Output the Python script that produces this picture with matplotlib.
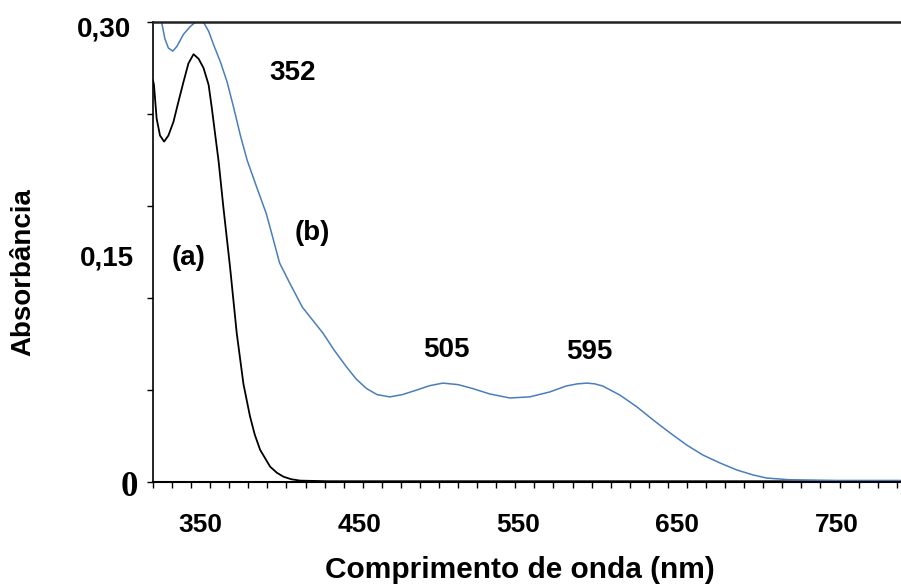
import numpy as np
import matplotlib
matplotlib.use("Agg")
import matplotlib.pyplot as plt
from matplotlib.ticker import NullFormatter

# spectrum (a) - black
wl_a = [320, 320.6, 322.3, 324.4, 327, 329.7, 332.9, 336, 339.2, 342.3, 345.5,
        348.7, 351.8, 355, 357, 359.2, 361.3, 364.2, 368.5, 372.7, 376.9, 381,
        384, 387.4, 393.7, 398, 402, 407, 412.6, 430, 500, 600, 700, 790]
abs_a = [0.262, 0.259, 0.237, 0.226, 0.222, 0.226, 0.235, 0.248, 0.261, 0.273,
         0.279, 0.276, 0.270, 0.259, 0.244, 0.226, 0.209, 0.180, 0.140, 0.097,
         0.064, 0.043, 0.031, 0.021, 0.010, 0.006, 0.0035, 0.0018, 0.0009,
         0.0005, 0.0005, 0.0005, 0.0005, 0.0005]

# spectrum (b) - blue
wl_b = [320, 323, 325.4, 327.5, 329.7, 332.4, 335, 339.2, 343.4, 346.6, 351.8,
        355, 358.2, 362.4, 366.6, 370.8, 375, 379.2, 385, 391.3, 395.5, 399.6,
        405.9, 414, 427, 434, 441.8, 448, 454.3, 461, 469, 477, 486, 494,
        502.4, 512, 521, 532, 544.5, 557, 569.6, 580, 587, 593, 598, 603,
        613.8, 624.5, 634.8, 645.4, 656, 666, 676.8, 687.5, 697.6, 706, 720,
        750, 790]
abs_b = [0.33, 0.315, 0.300, 0.289, 0.283, 0.281, 0.284, 0.292, 0.297, 0.2998,
         0.2998, 0.294, 0.285, 0.274, 0.261, 0.244, 0.226, 0.210, 0.193,
         0.175, 0.159, 0.143, 0.130, 0.114, 0.097, 0.086, 0.075, 0.067, 0.061,
         0.057, 0.0555, 0.057, 0.060, 0.0628, 0.0645, 0.0635, 0.061, 0.0574,
         0.0548, 0.0555, 0.0587, 0.0626, 0.0640, 0.0645, 0.0640, 0.0626,
         0.0567, 0.049, 0.0404, 0.032, 0.024, 0.0176, 0.0124, 0.0078, 0.0046,
         0.0026, 0.0015, 0.001, 0.001]

xticks = [350, 450, 550, 650, 750]
peak_labels = ["352", "505", "595"]
peak_pos = [(407.8, 0.2667), (504.9, 0.0861), (594.3, 0.0848)]

bold = ['Liberation Sans', 'DejaVu Sans']
serif = ['Liberation Serif', 'DejaVu Serif']

fig = plt.figure(figsize=(9.01, 5.85), dpi=100)
ax = fig.add_axes([153/901, 103/585, 748/901, 460/585])

ax.plot(wl_a, abs_a, color='black', lw=1.3)
ax.plot(wl_b, abs_b, color='#4a7ebb', lw=1.1)

ax.set_xlim(320, 790.7)
ax.set_ylim(0, 0.30)

ax.spines['right'].set_visible(False)
ax.spines['top'].set_linewidth(1.8)
ax.spines['top'].set_color('#222222')
ax.spines['left'].set_linewidth(1.2)
ax.spines['bottom'].set_linewidth(1.5)

# x axis: labels without marks, small minor ticks
ax.set_xticks(xticks)
ax.set_xticklabels([str(t) for t in xticks], family=bold, fontweight='bold', fontsize=19)
ax.set_xticks(np.arange(320, 791, 12), minor=True)
ax.xaxis.set_minor_formatter(NullFormatter())
ax.tick_params(axis='x', which='major', length=0, pad=22)
ax.tick_params(axis='x', which='minor', length=4, width=1, direction='out')

# y axis: ticks only, labels written by hand
ax.set_yticks(np.arange(0, 0.31, 0.06))
ax.set_yticklabels([])
ax.tick_params(axis='y', length=4, width=1, direction='out')

ytr = ax.get_yaxis_transform()
ax.text(-0.0655, 0.2948, "0,30", transform=ytr, ha='center', va='center',
        family=bold, fontweight='bold', fontsize=20)
ax.text(-0.062, 0.146, "0,15", transform=ytr, ha='center', va='center',
        family=bold, fontweight='bold', fontsize=20)
ax.text(-0.031, -0.0033, "0", transform=ytr, ha='center', va='center',
        family=serif, fontweight='bold', fontsize=25)

fig.text(23/901, 1 - 272/585, "Absorbância", rotation=90, ha='center', va='center',
         family=bold, fontweight='bold', fontsize=20)
fig.text(520/901, 1 - 570/585, "Comprimento de onda (nm)", ha='center', va='center',
         family=bold, fontweight='bold', fontsize=21.5)

for lab, (x, y) in zip(peak_labels, peak_pos):
    ax.text(x, y, lab, ha='center', va='center', family=bold, fontweight='bold', fontsize=20)
ax.text(342.5, 0.146, "(a)", ha='center', va='center', family=bold, fontweight='bold', fontsize=20)
ax.text(420.4, 0.1624, "(b)", ha='center', va='center', family=bold, fontweight='bold', fontsize=20)

plt.savefig("out.png", dpi=100)
